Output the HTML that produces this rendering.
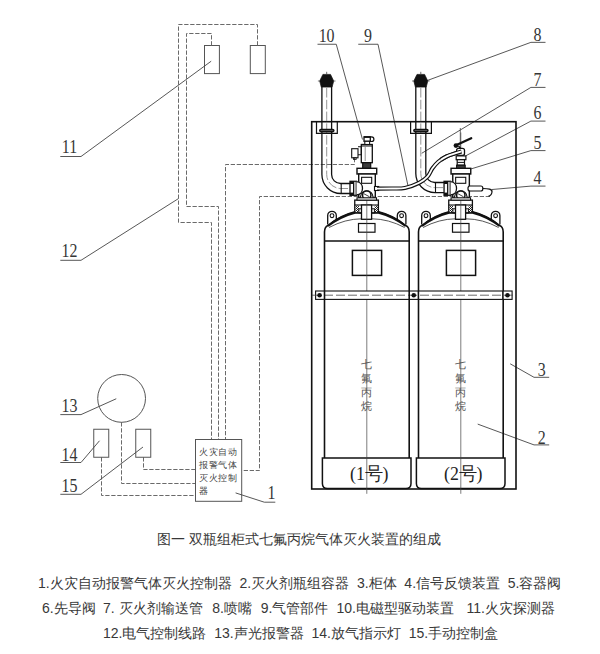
<!DOCTYPE html>
<html><head><meta charset="utf-8">
<style>
html,body{margin:0;padding:0;background:#fff;width:600px;height:654px;overflow:hidden;}
svg{position:absolute;left:0;top:0;}
.lab{font-family:"Liberation Serif",serif;fill:#363636;}
.num{font-family:"Liberation Serif",serif;fill:#222;}
.cyl{font-family:"Liberation Sans",sans-serif;}
.cap{position:absolute;font-family:"Liberation Sans",sans-serif;color:#383838;white-space:pre;}
</style></head><body>
<svg width="600" height="654" viewBox="0 0 600 654">
<defs>
<pattern id="hatch" width="2" height="2" patternUnits="userSpaceOnUse"><rect width="1" height="1" fill="#222"/><rect x="1" y="1" width="1" height="1" fill="#222"/></pattern>
<pattern id="hatch2" width="2" height="2" patternUnits="userSpaceOnUse"><rect width="2" height="2" fill="#555"/><rect width="1" height="1" fill="#000"/></pattern>
</defs>
<rect x="204.5" y="45.5" width="14.9" height="28.1" stroke="#555" stroke-width="1" fill="none" />
<rect x="250.3" y="45.5" width="15.0" height="28.1" stroke="#555" stroke-width="1" fill="none" />
<path d="M257.5,45.5 V24.5 H178.5 V222.5 H211.5 V439.3" stroke="#6a6a6a" stroke-width="1" fill="none" stroke-dasharray="4.3 1.7"/>
<path d="M211.5,45.5 V33.5 H186.5 V206.5 H218.5 V439.3" stroke="#6a6a6a" stroke-width="1" fill="none" stroke-dasharray="4.3 1.7"/>
<path d="M354.5,158 V164.5 H225.5 V439.3" stroke="#6a6a6a" stroke-width="1" fill="none" stroke-dasharray="4.3 1.7"/>
<path d="M490,196.5 H259.5 V470.5 H241.4" stroke="#6a6a6a" stroke-width="1" fill="none" stroke-dasharray="4.3 1.7"/>
<path d="M121.5,422.25 V483.5 H195.2" stroke="#6a6a6a" stroke-width="1" fill="none" stroke-dasharray="4.3 1.7"/>
<path d="M101.5,457.25 V495.5 H195.2" stroke="#6a6a6a" stroke-width="1" fill="none" stroke-dasharray="4.3 1.7"/>
<path d="M143.5,457.25 V469.5 H195.2" stroke="#6a6a6a" stroke-width="1" fill="none" stroke-dasharray="4.3 1.7"/>
<rect x="195.5" y="439.5" width="46.2" height="61.8" stroke="#555" stroke-width="1" fill="#fff" />
<circle cx="121.6" cy="398.4" r="23.9" stroke="#555" stroke-width="1" fill="none"/>
<rect x="93.75" y="429.25" width="15.0" height="28.0" stroke="#555" stroke-width="1" fill="none" />
<rect x="135.75" y="429.25" width="15.0" height="28.0" stroke="#555" stroke-width="1" fill="none" />
<text transform="translate(69.5,152.75) scale(0.95,1.06)" font-size="16.8" text-anchor="middle" class="lab">11</text>
<line x1="60.3" y1="156.5" x2="81" y2="156.5" stroke="#444" stroke-width="0.9" />
<line x1="81" y1="156.5" x2="211.2" y2="61.2" stroke="#444" stroke-width="0.9" />
<text transform="translate(69.5,256.7) scale(0.95,1.06)" font-size="16.8" text-anchor="middle" class="lab">12</text>
<line x1="60.3" y1="260.3" x2="81" y2="260.3" stroke="#444" stroke-width="0.9" />
<line x1="81" y1="260.3" x2="178.3" y2="198.7" stroke="#444" stroke-width="0.9" />
<text transform="translate(69.5,411.9) scale(0.95,1.06)" font-size="16.8" text-anchor="middle" class="lab">13</text>
<line x1="60.3" y1="414.6" x2="81" y2="414.6" stroke="#444" stroke-width="0.9" />
<line x1="81" y1="414.6" x2="116.25" y2="398.75" stroke="#444" stroke-width="0.9" />
<text transform="translate(69.5,460.9) scale(0.95,1.06)" font-size="16.8" text-anchor="middle" class="lab">14</text>
<line x1="60.3" y1="462.5" x2="81" y2="462.5" stroke="#444" stroke-width="0.9" />
<line x1="81" y1="462.5" x2="99.5" y2="440.75" stroke="#444" stroke-width="0.9" />
<text transform="translate(69.5,492.2) scale(0.95,1.06)" font-size="16.8" text-anchor="middle" class="lab">15</text>
<line x1="60.3" y1="494.3" x2="81" y2="494.3" stroke="#444" stroke-width="0.9" />
<line x1="81" y1="494.3" x2="143" y2="447" stroke="#444" stroke-width="0.9" />
<text transform="translate(271.4,499.2) scale(0.95,1.06)" font-size="16.8" text-anchor="middle" class="lab">1</text>
<line x1="264.3" y1="502.2" x2="275.3" y2="502.2" stroke="#444" stroke-width="0.9" />
<line x1="264.3" y1="502.2" x2="235.6" y2="492.9" stroke="#444" stroke-width="0.9" />
<text transform="translate(537.6,40.9) scale(0.95,1.06)" font-size="16.8" text-anchor="middle" class="lab">8</text>
<line x1="530.9" y1="42.35" x2="545.5" y2="42.35" stroke="#444" stroke-width="0.9" />
<line x1="530.9" y1="42.35" x2="427.3" y2="80.5" stroke="#444" stroke-width="0.9" />
<text transform="translate(537.6,85.9) scale(0.95,1.06)" font-size="16.8" text-anchor="middle" class="lab">7</text>
<line x1="530.9" y1="87.4" x2="545.5" y2="87.4" stroke="#444" stroke-width="0.9" />
<line x1="530.9" y1="87.4" x2="421.7" y2="153.3" stroke="#444" stroke-width="0.9" />
<text transform="translate(537.6,119.3) scale(0.95,1.06)" font-size="16.8" text-anchor="middle" class="lab">6</text>
<line x1="530.9" y1="121.1" x2="545.5" y2="121.1" stroke="#444" stroke-width="0.9" />
<line x1="530.9" y1="121.1" x2="465.8" y2="155.8" stroke="#444" stroke-width="0.9" />
<text transform="translate(537.6,148.7) scale(0.95,1.06)" font-size="16.8" text-anchor="middle" class="lab">5</text>
<line x1="530.9" y1="150.6" x2="545.5" y2="150.6" stroke="#444" stroke-width="0.9" />
<line x1="530.9" y1="150.6" x2="467.5" y2="170" stroke="#444" stroke-width="0.9" />
<text transform="translate(537.6,184.4) scale(0.95,1.06)" font-size="16.8" text-anchor="middle" class="lab">4</text>
<line x1="530.9" y1="186.1" x2="545.5" y2="186.1" stroke="#444" stroke-width="0.9" />
<line x1="530.9" y1="186.1" x2="492" y2="189.5" stroke="#444" stroke-width="0.9" />
<text transform="translate(541.7,376.3) scale(0.95,1.06)" font-size="16.8" text-anchor="middle" class="lab">3</text>
<line x1="534" y1="377.3" x2="549.2" y2="377.3" stroke="#444" stroke-width="0.9" />
<line x1="534" y1="377.3" x2="510.2" y2="363.8" stroke="#444" stroke-width="0.9" />
<text transform="translate(541.7,443.9) scale(0.95,1.06)" font-size="16.8" text-anchor="middle" class="lab">2</text>
<line x1="534" y1="444.9" x2="549.2" y2="444.9" stroke="#444" stroke-width="0.9" />
<line x1="534" y1="444.9" x2="477.7" y2="424.1" stroke="#444" stroke-width="0.9" />
<text transform="translate(326.6,42) scale(0.95,1.06)" font-size="16.8" text-anchor="middle" class="lab">10</text>
<line x1="317.5" y1="44.25" x2="336.25" y2="44.25" stroke="#444" stroke-width="0.9" />
<line x1="336.25" y1="44.25" x2="362.5" y2="139.5" stroke="#444" stroke-width="0.9" />
<text transform="translate(368,42) scale(0.95,1.06)" font-size="16.8" text-anchor="middle" class="lab">9</text>
<line x1="358.25" y1="44.25" x2="378" y2="44.25" stroke="#444" stroke-width="0.9" />
<line x1="378" y1="44.25" x2="407.8" y2="185" stroke="#444" stroke-width="0.9" />
<rect x="311.7" y="121.7" width="204.3" height="367.3" stroke="#111" stroke-width="1.6" fill="none" />
<path d="M324.5,458 V232 Q324.5,227 328.0,225.5 Q340.0,215.5 355.0,211.8" stroke="#111" stroke-width="1.6" fill="none" />
<path d="M409.2,458 V232 Q409.2,227 405.6,225.5 Q393.6,215.5 378.6,211.8" stroke="#111" stroke-width="1.6" fill="none" />
<path d="M328.0,226 Q340.0,216.5 355.0,212.6" stroke="#111" stroke-width="2.2" fill="none" />
<path d="M405.6,226 Q393.6,216.5 378.6,212.6" stroke="#111" stroke-width="2.2" fill="none" />
<path d="M329.0,227.5 Q345.0,219 361.5,218.8 L372.0,218.8 Q388.6,219 404.6,227.5" stroke="#444" stroke-width="0.9" fill="none" />
<line x1="324.5" y1="241" x2="409.2" y2="241" stroke="#111" stroke-width="1.5" />
<rect x="358.5" y="223.5" width="16.5" height="8.7" stroke="#111" stroke-width="1.2" fill="none" />
<rect x="352.4" y="250.4" width="29.2" height="25.0" stroke="#111" stroke-width="1.5" fill="none" />
<path d="M327.7,224.5 V215.6 A4.3,4.3 0 0 1 336.3,215.6 V220.5" stroke="#111" stroke-width="1.3" fill="none"/>
<circle cx="332.0" cy="215.7" r="1.9" stroke="#111" stroke-width="1.1" fill="none"/>
<path d="M397.3,220.5 V215.6 A4.3,4.3 0 0 1 405.9,215.6 V224.5" stroke="#111" stroke-width="1.3" fill="none"/>
<circle cx="401.6" cy="215.7" r="1.9" stroke="#111" stroke-width="1.1" fill="none"/>
<rect x="354.75" y="200.1" width="23.65" height="12.8" stroke="#111" stroke-width="1.3" fill="#fff" />
<line x1="354.75" y1="205" x2="378.4" y2="205" stroke="#111" stroke-width="1.1" />
<rect x="355.5" y="205.5" width="3.5" height="7.0" stroke="#111" stroke-width="0" fill="url(#hatch)" />
<rect x="374.6" y="205.5" width="3.4" height="7.0" stroke="#111" stroke-width="0" fill="url(#hatch)" />
<rect x="358.9" y="208.8" width="2.6" height="4.1" stroke="#111" stroke-width="1" fill="#fff" />
<rect x="371.6" y="208.8" width="2.8" height="4.1" stroke="#111" stroke-width="1" fill="#fff" />
<line x1="354.75" y1="212.9" x2="378.4" y2="212.9" stroke="#111" stroke-width="1.2" />
<rect x="361.5" y="205" width="10.1" height="14.3" stroke="#111" stroke-width="1.3" fill="#fff" />
<path d="M322.4,458 H411.0 V483.6 Q411.0,488.6 406.0,488.6 H327.4 Q322.4,488.6 322.4,483.6 Z" stroke="#111" stroke-width="1.5" fill="#fff" />
<line x1="366.8" y1="145" x2="366.8" y2="493.8" stroke="#444" stroke-width="0.7" />
<text x="366.8" y="368.0" font-size="10.5" text-anchor="middle" class="cyl" fill="#555">七</text>
<text x="366.8" y="381.7" font-size="10.5" text-anchor="middle" class="cyl" fill="#555">氟</text>
<text x="366.8" y="395.7" font-size="10.5" text-anchor="middle" class="cyl" fill="#555">丙</text>
<text x="366.8" y="409.7" font-size="10.5" text-anchor="middle" class="cyl" fill="#555">烷</text>
<text transform="translate(369.2,479.6) scale(1,1.04)" font-size="17.8" text-anchor="middle" class="num">(1号)</text>
<path d="M418.5,458 V232 Q418.5,227 422.0,225.5 Q434.0,215.5 449.0,211.8" stroke="#111" stroke-width="1.6" fill="none" />
<path d="M503.2,458 V232 Q503.2,227 499.6,225.5 Q487.6,215.5 472.6,211.8" stroke="#111" stroke-width="1.6" fill="none" />
<path d="M422.0,226 Q434.0,216.5 449.0,212.6" stroke="#111" stroke-width="2.2" fill="none" />
<path d="M499.6,226 Q487.6,216.5 472.6,212.6" stroke="#111" stroke-width="2.2" fill="none" />
<path d="M423.0,227.5 Q439.0,219 455.5,218.8 L466.0,218.8 Q482.6,219 498.6,227.5" stroke="#444" stroke-width="0.9" fill="none" />
<line x1="418.5" y1="241" x2="503.2" y2="241" stroke="#111" stroke-width="1.5" />
<rect x="452.5" y="223.5" width="16.5" height="8.7" stroke="#111" stroke-width="1.2" fill="none" />
<rect x="446.4" y="250.4" width="29.2" height="25.0" stroke="#111" stroke-width="1.5" fill="none" />
<path d="M421.7,224.5 V215.6 A4.3,4.3 0 0 1 430.3,215.6 V220.5" stroke="#111" stroke-width="1.3" fill="none"/>
<circle cx="426.0" cy="215.7" r="1.9" stroke="#111" stroke-width="1.1" fill="none"/>
<path d="M491.3,220.5 V215.6 A4.3,4.3 0 0 1 499.9,215.6 V224.5" stroke="#111" stroke-width="1.3" fill="none"/>
<circle cx="495.6" cy="215.7" r="1.9" stroke="#111" stroke-width="1.1" fill="none"/>
<rect x="448.75" y="200.1" width="23.65" height="12.8" stroke="#111" stroke-width="1.3" fill="#fff" />
<line x1="448.75" y1="205" x2="472.4" y2="205" stroke="#111" stroke-width="1.1" />
<rect x="449.5" y="205.5" width="3.5" height="7.0" stroke="#111" stroke-width="0" fill="url(#hatch)" />
<rect x="468.6" y="205.5" width="3.4" height="7.0" stroke="#111" stroke-width="0" fill="url(#hatch)" />
<rect x="452.9" y="208.8" width="2.6" height="4.1" stroke="#111" stroke-width="1" fill="#fff" />
<rect x="465.6" y="208.8" width="2.8" height="4.1" stroke="#111" stroke-width="1" fill="#fff" />
<line x1="448.75" y1="212.9" x2="472.4" y2="212.9" stroke="#111" stroke-width="1.2" />
<rect x="455.5" y="205" width="10.1" height="14.3" stroke="#111" stroke-width="1.3" fill="#fff" />
<path d="M416.4,458 H505.0 V483.6 Q505.0,488.6 500.0,488.6 H421.4 Q416.4,488.6 416.4,483.6 Z" stroke="#111" stroke-width="1.5" fill="#fff" />
<line x1="460.8" y1="132.5" x2="460.8" y2="493.8" stroke="#444" stroke-width="0.7" />
<text x="460.8" y="368.0" font-size="10.5" text-anchor="middle" class="cyl" fill="#555">七</text>
<text x="460.8" y="381.7" font-size="10.5" text-anchor="middle" class="cyl" fill="#555">氟</text>
<text x="460.8" y="395.7" font-size="10.5" text-anchor="middle" class="cyl" fill="#555">丙</text>
<text x="460.8" y="409.7" font-size="10.5" text-anchor="middle" class="cyl" fill="#555">烷</text>
<text transform="translate(463.2,479.6) scale(1,1.04)" font-size="17.8" text-anchor="middle" class="num">(2号)</text>
<rect x="315.6" y="291" width="196.5" height="8.4" stroke="#111" stroke-width="1.1" fill="#fff" />
<path d="M312,295.2 H516" stroke="#444" stroke-width="0.8" fill="none" stroke-dasharray="9 3"/>
<circle cx="319.6" cy="295.2" r="2.3" fill="#111"/>
<circle cx="413.75" cy="295.2" r="2.3" fill="#111"/>
<circle cx="507.5" cy="295.2" r="2.3" fill="#111"/>
<line x1="324.5" y1="291" x2="324.5" y2="299.4" stroke="#111" stroke-width="1.6" />
<line x1="409.2" y1="291" x2="409.2" y2="299.4" stroke="#111" stroke-width="1.6" />
<line x1="418.4" y1="291" x2="418.4" y2="299.4" stroke="#111" stroke-width="1.6" />
<line x1="502.9" y1="291" x2="502.9" y2="299.4" stroke="#111" stroke-width="1.6" />
<path d="M322.9,74.4 H330.5 L333.7,81 L332.09999999999997,87.1 H321.3 L319.7,81 Z" fill="#111" stroke="#111" stroke-width="0.7"/>
<line x1="326.7" y1="71.8" x2="326.7" y2="74.4" stroke="#444" stroke-width="0.8" />
<line x1="317.9" y1="81" x2="319.7" y2="81" stroke="#444" stroke-width="0.7" />
<line x1="333.7" y1="81" x2="335.5" y2="81" stroke="#444" stroke-width="0.7" />
<path d="M417.0,74.4 H424.6 L427.8,81 L426.2,87.1 H415.40000000000003 L413.8,81 Z" fill="#111" stroke="#111" stroke-width="0.7"/>
<line x1="420.8" y1="71.8" x2="420.8" y2="74.4" stroke="#444" stroke-width="0.8" />
<line x1="412.0" y1="81" x2="413.8" y2="81" stroke="#444" stroke-width="0.7" />
<line x1="427.8" y1="81" x2="429.6" y2="81" stroke="#444" stroke-width="0.7" />
<path d="M321.9,86.6 V174.5 A19,19 0 0 0 340.9,193.5 H350.5" stroke="#111" stroke-width="1.3" fill="none" />
<path d="M331.6,86.6 V174.5 A9,9 0 0 0 340.6,183.5 H350.5" stroke="#111" stroke-width="1.3" fill="none" />
<path d="M326.7,88 V174.5 A14,14 0 0 0 340.7,188.5 H350" stroke="#888" stroke-width="0.9" fill="none" stroke-dasharray="9.5 2.3"/>
<line x1="341.2" y1="183.5" x2="341.2" y2="193.5" stroke="#111" stroke-width="1.1" />
<path d="M316.5,121.7 V133.3 H337.3 V121.7" stroke="#111" stroke-width="1.2" fill="none" />
<rect x="319.7" y="129.5" width="14.2" height="2.2" rx="1.1" fill="#666" stroke="#111" stroke-width="1.4"/>
<path d="M415.8,86.6 V173.5 A19.2,19.2 0 0 0 435,192.7 H444.3" stroke="#111" stroke-width="1.3" fill="none" />
<path d="M425.8,86.6 V173.5 A9,9 0 0 0 434.8,182.5 H444.3" stroke="#111" stroke-width="1.3" fill="none" />
<path d="M420.8,88 V173.5 A14,14 0 0 0 434.8,187.6 H444" stroke="#888" stroke-width="0.9" fill="none" stroke-dasharray="9.5 2.3"/>
<line x1="435.5" y1="182.5" x2="435.5" y2="192.7" stroke="#111" stroke-width="1.1" />
<path d="M410.6,121.7 V133.3 H431.40000000000003 V121.7" stroke="#111" stroke-width="1.2" fill="none" />
<rect x="413.8" y="129.5" width="14.2" height="2.2" rx="1.1" fill="#666" stroke="#111" stroke-width="1.4"/>
<rect x="350.0" y="181.3" width="6.5" height="14.0" stroke="#111" stroke-width="1.3" fill="#fff" />
<rect x="350.0" y="181.3" width="3.5" height="2.7" stroke="#111" stroke-width="0" fill="#111" />
<rect x="350.0" y="192.6" width="3.5" height="2.7" stroke="#111" stroke-width="0" fill="#111" />
<line x1="353.5" y1="181.3" x2="353.5" y2="195.3" stroke="#111" stroke-width="1" />
<line x1="355.0" y1="181.3" x2="355.0" y2="195.3" stroke="#444" stroke-width="0.8" />
<rect x="357.0" y="168.3" width="19.7" height="5.7" stroke="#111" stroke-width="1.4" fill="#fff" />
<rect x="358.7" y="174" width="16.6" height="23.5" stroke="#111" stroke-width="1.4" fill="#fff" />
<rect x="361.6" y="177.3" width="10.1" height="6.0" stroke="#111" stroke-width="1.1" fill="none" />
<path d="M356.5,181.6 C364.5,182 364.5,194.6 356.5,195" stroke="#111" stroke-width="1.3" fill="#fff" />
<rect x="374.5" y="186.5" width="4.2" height="4.0" stroke="#111" stroke-width="1.1" fill="#fff" />
<path d="M360.5,199.8 V197 A6.2,6.2 0 0 1 373.0,197 V199.8" stroke="#111" stroke-width="1.2" fill="#fff" />
<circle cx="366.75" cy="195.2" r="4.2" stroke="#111" stroke-width="1.5" fill="#fff"/>
<line x1="364.0" y1="193.8" x2="369.5" y2="196.8" stroke="#111" stroke-width="0.8" />
<rect x="357.0" y="197.8" width="19.5" height="2.3" stroke="#111" stroke-width="1.1" fill="#fff" />
<rect x="361.3" y="144.5" width="11.0" height="18.2" stroke="#111" stroke-width="1.3" fill="#fff" />
<line x1="361.3" y1="146" x2="372.3" y2="146" stroke="#111" stroke-width="1" />
<line x1="365.2" y1="147" x2="365.2" y2="161" stroke="#444" stroke-width="0.6" />
<circle cx="371.6" cy="139.2" r="2.3" fill="#fff" stroke="#111" stroke-width="1.2"/>
<rect x="364" y="136.8" width="6.3" height="4.5" stroke="#111" stroke-width="1.3" fill="#fff" />
<rect x="364" y="136.2" width="6.3" height="1.7" stroke="#111" stroke-width="0" fill="#111" />
<rect x="364.8" y="141.3" width="4.8" height="3.2" stroke="#111" stroke-width="1.1" fill="#fff" />
<rect x="362.7" y="162.7" width="8.0" height="5.5" stroke="#111" stroke-width="0" fill="#3a3a3a" />
<rect x="362.7" y="162.7" width="8.0" height="5.5" stroke="#111" stroke-width="1.2" fill="none" />
<rect x="351.7" y="148.7" width="6.3" height="9.1" stroke="#111" stroke-width="1.1" fill="#fff" />
<path d="M358,146.7 H361.3 V154.7 H358" stroke="#111" stroke-width="1.1" fill="none" />
<rect x="353.4" y="157.8" width="2.8" height="1.6" stroke="#111" stroke-width="0.8" fill="none" />
<path d="M377,188.6 C379.5,188.6 387.3,188.6 392,188.5 C396.7,188.4 400.5,188.8 405,187.9 C409.5,187.0 415.4,184.7 419.2,182.8 C422.9,180.9 425.3,179.1 427.5,176.7 C429.7,174.3 430.7,170.8 432.5,168.3 C434.3,165.8 435.9,163.7 438.3,161.7 C440.7,159.7 443.9,157.8 446.7,156.4 C449.5,155.0 452.5,154.2 455,153.4 C457.5,152.6 460.4,151.7 461.5,151.4" stroke="#111" stroke-width="4.1" fill="none" />
<path d="M377,188.6 C379.5,188.6 387.3,188.6 392,188.5 C396.7,188.4 400.5,188.8 405,187.9 C409.5,187.0 415.4,184.7 419.2,182.8 C422.9,180.9 425.3,179.1 427.5,176.7 C429.7,174.3 430.7,170.8 432.5,168.3 C434.3,165.8 435.9,163.7 438.3,161.7 C440.7,159.7 443.9,157.8 446.7,156.4 C449.5,155.0 452.5,154.2 455,153.4 C457.5,152.6 460.4,151.7 461.5,151.4" stroke="#fff" stroke-width="1.8" fill="none" />
<rect x="444.05" y="181.3" width="6.5" height="14.0" stroke="#111" stroke-width="1.3" fill="#fff" />
<rect x="444.05" y="181.3" width="3.5" height="2.7" stroke="#111" stroke-width="0" fill="#111" />
<rect x="444.05" y="192.6" width="3.5" height="2.7" stroke="#111" stroke-width="0" fill="#111" />
<line x1="447.55" y1="181.3" x2="447.55" y2="195.3" stroke="#111" stroke-width="1" />
<line x1="449.05" y1="181.3" x2="449.05" y2="195.3" stroke="#444" stroke-width="0.8" />
<rect x="451.05" y="168.3" width="19.7" height="5.7" stroke="#111" stroke-width="1.4" fill="#fff" />
<rect x="452.75" y="174" width="16.6" height="23.5" stroke="#111" stroke-width="1.4" fill="#fff" />
<rect x="455.65" y="177.3" width="10.1" height="6.0" stroke="#111" stroke-width="1.1" fill="none" />
<path d="M450.55,181.6 C458.55,182 458.55,194.6 450.55,195" stroke="#111" stroke-width="1.3" fill="#fff" />
<rect x="468.55" y="186.5" width="4.2" height="4.0" stroke="#111" stroke-width="1.1" fill="#fff" />
<path d="M454.55,199.8 V197 A6.2,6.2 0 0 1 467.05,197 V199.8" stroke="#111" stroke-width="1.2" fill="#fff" />
<circle cx="460.8" cy="195.2" r="4.2" stroke="#111" stroke-width="1.5" fill="#fff"/>
<line x1="458.05" y1="193.8" x2="463.55" y2="196.8" stroke="#111" stroke-width="0.8" />
<rect x="451.05" y="197.8" width="19.5" height="2.3" stroke="#111" stroke-width="1.1" fill="#fff" />
<line x1="460.3" y1="128" x2="460.3" y2="148" stroke="#444" stroke-width="0.8" />
<rect x="456.6" y="148.3" width="7.9" height="7.2" rx="2" fill="#fff" stroke="#111" stroke-width="1.3"/>
<path d="M377,188.6 C379.5,188.6 387.3,188.6 392,188.5 C396.7,188.4 400.5,188.8 405,187.9 C409.5,187.0 415.4,184.7 419.2,182.8 C422.9,180.9 425.3,179.1 427.5,176.7 C429.7,174.3 430.7,170.8 432.5,168.3 C434.3,165.8 435.9,163.7 438.3,161.7 C440.7,159.7 443.9,157.8 446.7,156.4 C449.5,155.0 452.5,154.2 455,153.4 C457.5,152.6 460.4,151.7 461.5,151.4" stroke="#111" stroke-width="4.1" fill="none" stroke-dasharray="0 75 30"/>
<path d="M377,188.6 C379.5,188.6 387.3,188.6 392,188.5 C396.7,188.4 400.5,188.8 405,187.9 C409.5,187.0 415.4,184.7 419.2,182.8 C422.9,180.9 425.3,179.1 427.5,176.7 C429.7,174.3 430.7,170.8 432.5,168.3 C434.3,165.8 435.9,163.7 438.3,161.7 C440.7,159.7 443.9,157.8 446.7,156.4 C449.5,155.0 452.5,154.2 455,153.4 C457.5,152.6 460.4,151.7 461.5,151.4" stroke="#fff" stroke-width="1.8" fill="none" stroke-dasharray="0 75 30"/>
<rect x="456.2" y="155.9" width="9.7" height="3.8" stroke="#111" stroke-width="1.2" fill="#fff" />
<rect x="457.2" y="159.7" width="7.3" height="5.5" stroke="#111" stroke-width="1.2" fill="#fff" />
<line x1="457.2" y1="162.4" x2="464.5" y2="162.4" stroke="#111" stroke-width="1" />
<rect x="456.6" y="165.2" width="8.6" height="3.0" stroke="#111" stroke-width="0" fill="#3a3a3a" />
<rect x="456.6" y="165.2" width="8.6" height="3.0" stroke="#111" stroke-width="1.1" fill="none" />
<path d="M456,145.3 L471.2,138.3" stroke="#111" stroke-width="2.3" fill="none" stroke-linecap="round"/>
<circle cx="456" cy="145.6" r="2.4" fill="#111"/>
<line x1="458.5" y1="146" x2="460.5" y2="148.5" stroke="#111" stroke-width="1.5" />
<rect x="468" y="186" width="14.8" height="5" rx="2" fill="#fff" stroke="#111" stroke-width="1.2"/>
<path d="M482.8,188.5 C488,188.5 492.5,189 492,192 C491.5,195 490,196 488.5,196.2" stroke="#111" stroke-width="1.2" fill="none" />
<text x="203.4" y="454.8" font-size="9" text-anchor="middle" class="cyl" fill="#444">火</text><text x="213.1" y="454.8" font-size="9" text-anchor="middle" class="cyl" fill="#444">灾</text><text x="222.8" y="454.8" font-size="9" text-anchor="middle" class="cyl" fill="#444">自</text><text x="232.5" y="454.8" font-size="9" text-anchor="middle" class="cyl" fill="#444">动</text><text x="203.4" y="468.0" font-size="9" text-anchor="middle" class="cyl" fill="#444">报</text><text x="213.1" y="468.0" font-size="9" text-anchor="middle" class="cyl" fill="#444">警</text><text x="222.8" y="468.0" font-size="9" text-anchor="middle" class="cyl" fill="#444">气</text><text x="232.5" y="468.0" font-size="9" text-anchor="middle" class="cyl" fill="#444">体</text><text x="203.4" y="481.35" font-size="9" text-anchor="middle" class="cyl" fill="#444">灭</text><text x="213.1" y="481.35" font-size="9" text-anchor="middle" class="cyl" fill="#444">火</text><text x="222.8" y="481.35" font-size="9" text-anchor="middle" class="cyl" fill="#444">控</text><text x="232.5" y="481.35" font-size="9" text-anchor="middle" class="cyl" fill="#444">制</text><text x="203.4" y="493.8" font-size="9" text-anchor="middle" class="cyl" fill="#444">器</text>
</svg>
<div class="cap" style="left:157px;top:530px;font-size:14.4px;">图一 双瓶组柜式七氟丙烷气体灭火装置的组成</div>
<div class="cap" style="left:38px;top:575.3px;font-size:14px;">1.火灾自动报警气体灭火控制器  2.灭火剂瓶组容器  3.柜体  4.信号反馈装置  5.容器阀</div>
<div class="cap" style="left:42px;top:600px;font-size:14px;">6.先导阀</div>
<div class="cap" style="left:103px;top:600px;font-size:14px;">7. 灭火剂输送管</div>
<div class="cap" style="left:212.3px;top:600px;font-size:14px;">8.喷嘴</div>
<div class="cap" style="left:260.7px;top:600px;font-size:14px;">9.气管部件</div>
<div class="cap" style="left:336.5px;top:600px;font-size:14px;">10.电磁型驱动装置</div>
<div class="cap" style="left:466.5px;top:600px;font-size:14px;">11.火灾探测器</div>
<div class="cap" style="left:103px;top:624.5px;font-size:14px;">12.电气控制线路  13.声光报警器  14.放气指示灯  15.手动控制盒</div>
</body></html>
